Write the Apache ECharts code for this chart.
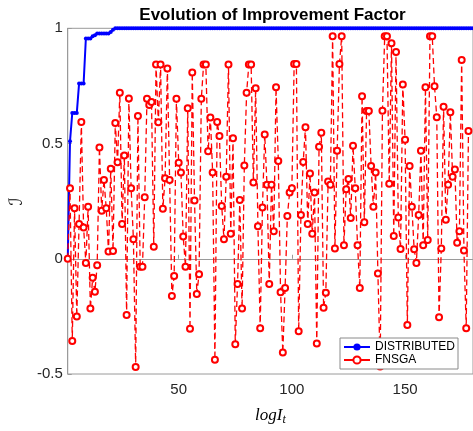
<!DOCTYPE html>
<html><head><meta charset="utf-8">
<script src="https://cdn.jsdelivr.net/npm/echarts@6/dist/echarts.min.js"></script>
<style>html,body{margin:0;padding:0;background:#fff}#c{width:473px;height:431px}</style>
</head><body><div id="c"></div>
<script>
// ---- data ----
const xMin = 1, xMax = 180;
const xTicks = [50, 100, 150];
const yTicks = [-0.5, 0, 0.5, 1];
const seriesNames = ['DISTRIBUTED', 'FNSGA'];
const titleText = 'Evolution of Improvement Factor';

// DISTRIBUTED, iterations 1..180
const distributedHead = [0, 0.51, 0.633, 0.633, 0.633, 0.76, 0.76, 0.76, 0.956, 0.956,
  0.956, 0.966, 0.97, 0.977, 0.977, 0.977, 0.977, 0.977, 0.977, 0.984, 0.994];
const distributedTailValue = 1;   // value from iteration 22 on
const distributedCount = 180;

// FNSGA, iterations 1..178
const fnsga = [
  0, 0.306, -0.357, 0.219, -0.251, 0.151, 0.593, 0.136, -0.018, 0.226,
  -0.216, -0.082, -0.143, -0.028, 0.483, 0.208, 0.342, 0.219, 0.031, 0.391,
  0.034, 0.589, 0.419, 0.72, 0.151, 0.448, -0.244, 0.695, 0.306, 0.085,
  -0.47, 0.62, -0.035, -0.035, 0.267, 0.694, 0.667, 0.68, 0.052, 0.843,
  0.592, 0.843, 0.217, 0.349, 0.826, 0.342, -0.162, -0.075, 0.694, 0.417,
  0.374, 0.097, -0.035, 0.653, -0.304, 0.808, 0.253, -0.153, -0.067, 0.694,
  0.843, 0.843, 0.466, 0.613, 0.374, -0.438, 0.593, 0.533, 0.229, 0.085,
  0.356, 0.843, 0.109, 0.523, -0.371, -0.11, 0.255, -0.216, 0.405, 0.72,
  0.843, 0.843, 0.331, 0.74, 0.141, -0.301, 0.222, 0.539, 0.321, -0.11,
  0.321, 0.119, 0.744, 0.424, -0.145, -0.407, -0.127, 0.186, 0.288, 0.306,
  0.845, 0.845, -0.315, 0.19, 0.42, 0.571, 0.151, 0.37, 0.109, 0.288,
  -0.368, 0.486, 0.547, -0.212, -0.147, 0.335, 0.321, 0.966, 0.045, 0.469,
  0.845, 0.966, 0.059, 0.302, 0.346, 0.177, 0.49, 0.306, 0.059, -0.127,
  0.705, 0.158, 0.641, 0.641, 0.402, 0.226, 0.374, -0.064, -0.467, 0.642,
  0.966, 0.966, 0.325, 0.935, 0.099, 0.897, 0.179, 0.042, 0.756, 0.516,
  -0.287, 0.402, 0.226, 0.041, -0.018, 0.19, 0.469, 0.059, 0.744, 0.081,
  0.966, 0.966, 0.749, 0.614, -0.254, 0.045, 0.66, 0.169, 0.321, 0.636,
  0.356, 0.387, 0.069, 0.119, 0.862, 0.036, -0.301, 0.554
];

// ---- build ----
const distributed = distributedHead.slice();
while (distributed.length < distributedCount) distributed.push(distributedTailValue);
const toPairs = arr => arr.map((v, i) => [i + 1, v]);

const axisGray = '#9a9a9a';
const textGray = '#262626';
const sans = 'Liberation Sans, Arial, Helvetica, sans-serif';

const chart = echarts.init(document.getElementById('c'), null, {renderer: 'canvas'});
chart.setOption({
  animation: false,
  backgroundColor: '#fff',
  grid: {left: 65.5, top: 28.3, width: 414.4, height: 354.7, show: true,
         borderColor: axisGray, borderWidth: 1, backgroundColor: 'transparent'},
  graphic: [{
    type: 'text', x: 272.5, y: 15,
    style: {text: titleText, fontFamily: sans, fontWeight: 'bold', fontSize: 17,
            fill: '#000', align: 'center', verticalAlign: 'middle'}
  }],
  xAxis: {
    type: 'value', min: xMin, max: xMax,
    axisLine: {show: true, lineStyle: {color: axisGray, width: 1}},
    axisTick: {show: true, inside: true, length: 4, customValues: xTicks,
               lineStyle: {color: axisGray}},
    axisLabel: {customValues: xTicks, color: textGray, fontSize: 15, fontFamily: sans, margin: 8},
    splitLine: {show: false},
    name: '{a|logI}{b|t}', nameLocation: 'middle', nameGap: 31,
    nameTextStyle: {
      rich: {
        a: {fontFamily: 'Liberation Serif, DejaVu Serif, serif', fontStyle: 'italic', fontSize: 17, color: '#000'},
        b: {fontFamily: 'Liberation Serif, DejaVu Serif, serif', fontStyle: 'italic', fontSize: 12, color: '#000', padding: [9, 0, 0, 0]}
      }
    }
  },
  yAxis: {
    type: 'value', min: -0.5, max: 1, interval: 0.5,
    axisLine: {show: true, lineStyle: {color: axisGray, width: 1}},
    axisTick: {show: true, inside: true, length: 4, lineStyle: {color: axisGray}},
    axisLabel: {color: textGray, fontSize: 15, fontFamily: sans, margin: 5},
    splitLine: {show: false},
    name: 'ℐ', nameLocation: 'middle', nameGap: 38, nameRotate: 90,
    nameTextStyle: {fontFamily: 'DejaVu Serif, DejaVu Sans, serif', fontSize: 18, color: '#000'}
  },
  legend: {
    orient: 'vertical', left: 340, top: 338,
    padding: [3, 3, 3, 3], itemGap: 1, itemWidth: 26, itemHeight: 9,
    backgroundColor: '#fff', borderColor: '#8a8a8a', borderWidth: 1, borderRadius: 0,
    textStyle: {fontSize: 12, fontFamily: sans, color: '#000'},
    data: [
      {name: seriesNames[0]},
      {name: seriesNames[1], lineStyle: {type: 'solid'}}
    ]
  },
  series: [
    {
      name: seriesNames[0], type: 'line', data: toPairs(distributed), z: 2,
      symbol: 'circle', symbolSize: 4, showSymbol: true,
      lineStyle: {color: '#0000ff', width: 2},
      itemStyle: {color: '#0000ff'}
    },
    {
      name: seriesNames[1], type: 'line', data: toPairs(fnsga), z: 3,
      symbol: 'emptyCircle', symbolSize: 6, showSymbol: true,
      lineStyle: {color: '#ff0000', width: 1.3, type: [6, 3.5]},
      itemStyle: {color: '#ff0000', borderWidth: 1.1}
    }
  ]
});
</script>
</body></html>
